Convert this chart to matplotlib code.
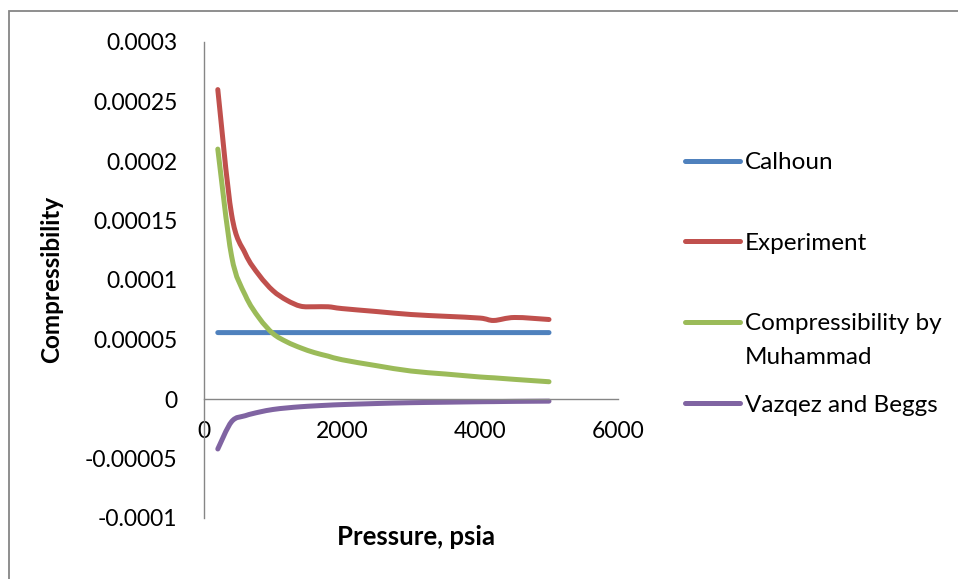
import matplotlib
matplotlib.use('Agg')
import numpy as np
import matplotlib.pyplot as plt
from matplotlib.lines import Line2D
from matplotlib.patches import Rectangle, PathPatch
from matplotlib.path import Path

plt.rcParams['font.family'] = ['Lato', 'DejaVu Sans']

# data
pressure = [200, 400, 600, 800, 1000, 1200, 1400, 1600, 1800, 2000,
            2500, 3000, 3500, 4000, 4200, 4500, 5000]
calhoun = [0.0000558] * len(pressure)
experiment = [0.00026, 0.000155, 0.000122, 0.000104, 0.000091, 0.000083, 0.000078,
              0.0000775, 0.0000775, 0.000076, 0.0000735, 0.000071, 0.0000695,
              0.000068, 0.000066, 0.0000685, 0.0000668]
muhammad = [0.00021, 0.00012, 0.000087, 0.000068, 0.000055, 0.000048, 0.000043,
            0.000039, 0.000036, 0.000033, 0.000028, 0.0000235, 0.000021,
            0.0000185, 0.0000178, 0.0000165, 0.0000145]
vazquez = [-0.000042, -0.000019, -0.000014, -0.000011, -0.0000088, -0.0000075,
           -0.0000065, -0.0000058, -0.0000052, -0.0000047, -0.0000038, -0.0000031,
           -0.0000027, -0.0000023, -0.0000022, -0.000002, -0.0000018]

series_names = ['Calhoun', 'Experiment', 'Compressibility by\nMuhammad', 'Vazqez and Beggs']
colors = ['#4F81BD', '#C0504D', '#9BBB59', '#8064A2']

xticks = [0, 2000, 4000, 6000]
yticks = [0.0003, 0.00025, 0.0002, 0.00015, 0.0001, 0.00005, 0, -0.00005, -0.0001]
ytick_labels = ['0.0003', '0.00025', '0.0002', '0.00015', '0.0001', '0.00005', '0',
                '-0.00005', '-0.0001']


def smooth_path(xs, ys):
    # excel style smoothed line: bezier segments through every data point
    p = np.column_stack([xs, ys]).astype(float)
    verts = [p[0]]
    codes = [Path.MOVETO]
    n = len(p)
    for i in range(n - 1):
        p0 = p[max(i - 1, 0)]
        p1 = p[i]
        p2 = p[i + 1]
        p3 = p[min(i + 2, n - 1)]
        c1 = p1 + (p2 - p0) / 6.0
        c2 = p2 - (p3 - p1) / 6.0
        verts += [c1, c2, p2]
        codes += [Path.CURVE4] * 3
    return Path(verts, codes)


W, H = 958, 579
fig = plt.figure(figsize=(W / 100, H / 100), dpi=100)
fig.patch.set_facecolor('white')

# chart area border
fig.add_artist(Rectangle((9 / W, -0.05), 1.2, 1 - 11 / H + 0.05, transform=fig.transFigure,
                         fill=False, edgecolor='#868686', linewidth=1.3))

ax = fig.add_axes([204 / W, 1 - 518 / H, (618 - 204) / W, (518 - 42) / H])

for ys, c in zip([calhoun, experiment, muhammad, vazquez], colors):
    patch = PathPatch(smooth_path(pressure, ys), facecolor='none', edgecolor=c,
                      linewidth=3.6, capstyle='round', joinstyle='round',
                      transform=ax.transData)
    ax.add_patch(patch)

ax.set_xlim(0, 6000)
ax.set_ylim(-0.0001, 0.0003)
ax.set_xticks(xticks)
ax.set_xticklabels([str(t) for t in xticks])
ax.set_yticks(yticks)
ax.set_yticklabels(ytick_labels)

for s in ['top', 'right']:
    ax.spines[s].set_visible(False)
ax.spines['bottom'].set_position(('data', 0))
for s in ['left', 'bottom']:
    ax.spines[s].set_color('#868686')
    ax.spines[s].set_linewidth(1.0)

ax.tick_params(axis='x', length=0, pad=16, labelsize=16.5)
ax.tick_params(axis='y', length=0, pad=19, labelsize=16.5)

fig.text(52 / W, 1 - 279 / H, 'Compressibility', rotation=90, ha='center', va='center',
         fontsize=17.5, fontweight='bold')
fig.text(416 / W, 1 - 537 / H, 'Pressure, psia', ha='center', va='center',
         fontsize=18.5, fontweight='bold')

# legend on the right, first text line centred on the handle
legend_y = [161, 241, 322, 403]
line_step = 33
for name, c, yy in zip(series_names, colors, legend_y):
    fig.add_artist(Line2D([685 / W, 740 / W], [1 - yy / H, 1 - yy / H],
                          transform=fig.transFigure, color=c, linewidth=3.6,
                          solid_capstyle='round'))
    for k, part in enumerate(name.split('\n')):
        fig.text(745 / W, 1 - (yy + 8.5 + k * line_step) / H, part, ha='left',
                 va='baseline', fontsize=17.5)

fig.savefig('out.png', dpi=100)
